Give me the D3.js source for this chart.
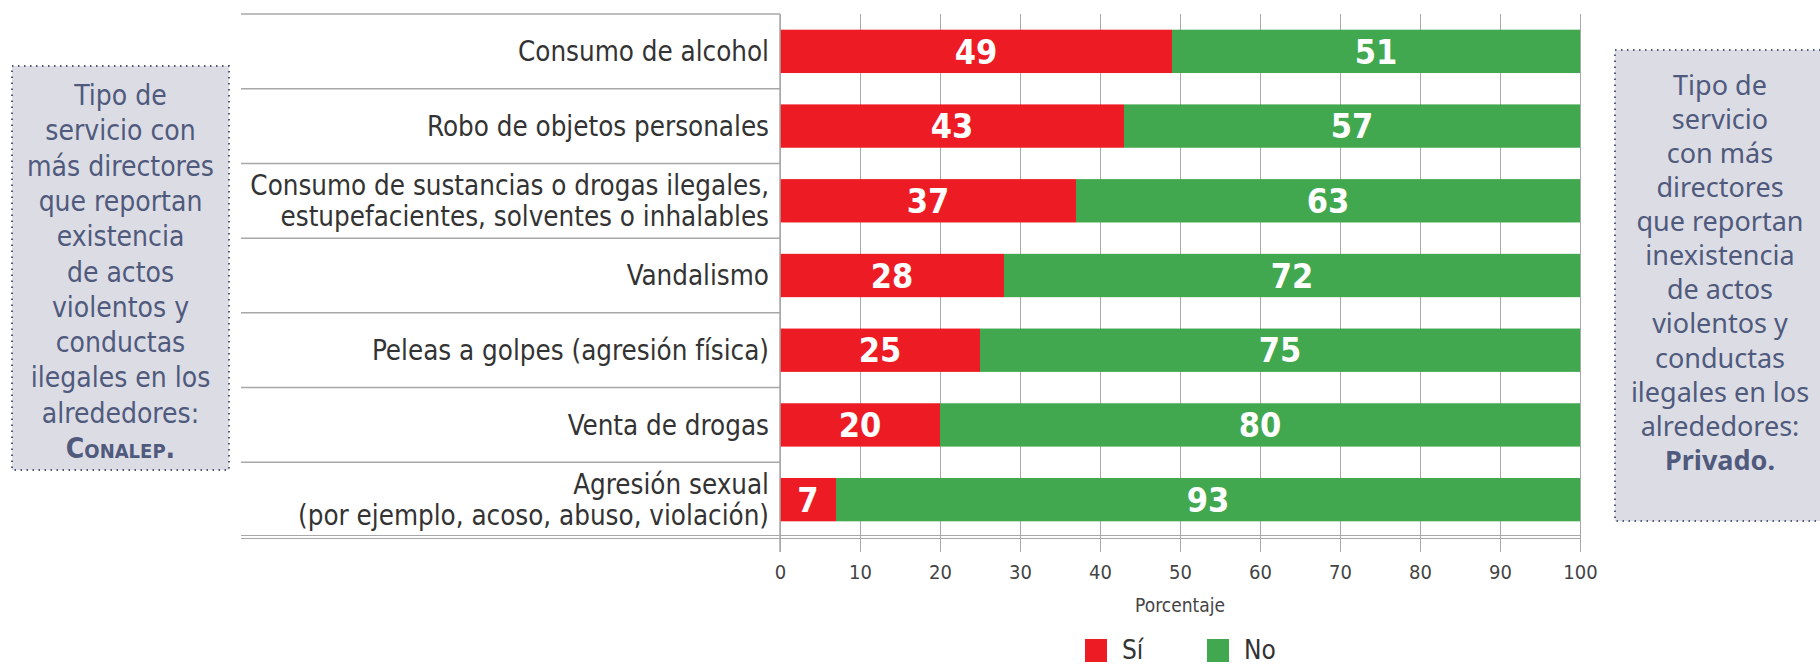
<!DOCTYPE html>
<html>
<head>
<meta charset="utf-8">
<script src="https://cdn.jsdelivr.net/npm/d3@7"></script>
<style>
  body { margin: 0; background: #fff; }
  svg { display: block; }
</style>
</head>
<body>
<div id="chart"></div>
<script>
// categories (line breaks marked with |)
const categories = [
  "Consumo de alcohol",
  "Robo de objetos personales",
  "Consumo de sustancias o drogas ilegales,|estupefacientes, solventes o inhalables",
  "Vandalismo",
  "Peleas a golpes (agresión física)",
  "Venta de drogas",
  "Agresión sexual|(por ejemplo, acoso, abuso, violación)"
];
const si = [49, 43, 37, 28, 25, 20, 7];
const no = [51, 57, 63, 72, 75, 80, 93];
const seriesNames = ["Sí", "No"];
const xTicks = [0, 10, 20, 30, 40, 50, 60, 70, 80, 90, 100];
const leftNote = ["Tipo de", "servicio con", "más directores", "que reportan", "existencia", "de actos", "violentos y", "conductas", "ilegales en los", "alrededores:"];
const leftBold = "Conalep.";
const rightNote = ["Tipo de", "servicio", "con más", "directores", "que reportan", "inexistencia", "de actos", "violentos y", "conductas", "ilegales en los", "alrededores:"];
const rightBold = "Privado.";

const w = 1820, h = 665;
const colors = {"Sí": "#ed1c24", "No": "#41a84f"};
const narrow = "'Liberation Sans Narrow', 'DejaVu Sans Condensed', 'Roboto', sans-serif";
const sans = "'Noto Sans', 'Open Sans', sans-serif";
const noteColor = "#4f5a7c";

const svg = d3.select("#chart").append("svg")
  .attr("width", w).attr("height", h);

const plotTop = 14, plotBottom = 537, plotL = 780, plotR = 1580, labelL = 241;

const x = d3.scaleLinear().domain([0, 100]).range([plotL, plotR]);
const y = d3.scaleBand().domain(categories).range([plotTop, plotBottom])
  .paddingInner(0.42).paddingOuter(0.21);

const rows = categories.map((c, i) => ({cat: c, si: si[i], no: no[i]}));

// gridlines
svg.append("g")
  .attr("transform", "translate(0," + (plotBottom + 15) + ")")
  .call(d3.axisBottom(x).tickValues(xTicks).tickSize(-(plotBottom + 15 - plotTop)).tickFormat(""))
  .call(g => g.select(".domain").remove())
  .call(g => g.selectAll(".tick line").attr("stroke", "#a8a8a8").attr("stroke-width", 1));

// row separators
const step = y.step();
d3.range(categories.length).forEach(i => {
  const yy = y(categories[i]) - step * y.paddingInner() / 2;
  svg.append("line")
    .attr("x1", labelL).attr("x2", plotL)
    .attr("y1", yy).attr("y2", yy)
    .attr("stroke", "#a8a8a8").attr("stroke-width", 1.5);
});
// bottom double line
[plotBottom - 1.5, plotBottom + 1.5].forEach(yy => {
  svg.append("line")
    .attr("x1", labelL).attr("x2", plotR)
    .attr("y1", yy).attr("y2", yy)
    .attr("stroke", "#a8a8a8").attr("stroke-width", 1.2);
});

// bars
const barG = svg.append("g");
barG.selectAll(".si").data(rows).enter().append("rect")
  .attr("x", x(0)).attr("y", d => y(d.cat))
  .attr("width", d => x(d.si) - x(0)).attr("height", y.bandwidth())
  .attr("fill", colors["Sí"]);
barG.selectAll(".no").data(rows).enter().append("rect")
  .attr("x", d => x(d.si)).attr("y", d => y(d.cat))
  .attr("width", d => x(d.si + d.no) - x(d.si)).attr("height", y.bandwidth())
  .attr("fill", colors["No"]);

// value labels
barG.selectAll(".vs").data(rows).enter().append("text")
  .attr("x", d => x(d.si / 2)).attr("y", d => y(d.cat) + y.bandwidth() / 2)
  .attr("dy", "0.36em").attr("text-anchor", "middle")
  .style("font-family", narrow).style("font-weight", "bold").style("font-size", "34px")
  .attr("fill", "#fff").text(d => d.si);
barG.selectAll(".vn").data(rows).enter().append("text")
  .attr("x", d => x(d.si + d.no / 2)).attr("y", d => y(d.cat) + y.bandwidth() / 2)
  .attr("dy", "0.36em").attr("text-anchor", "middle")
  .style("font-family", narrow).style("font-weight", "bold").style("font-size", "34px")
  .attr("fill", "#fff").text(d => d.no);

// vertical axis line
svg.append("line")
  .attr("x1", plotL).attr("x2", plotL).attr("y1", plotTop).attr("y2", plotBottom + 15)
  .attr("stroke", "#a8a8a8").attr("stroke-width", 1.5);

// category labels
categories.forEach(c => {
  const lines = c.split("|");
  const cy = y(c) + y.bandwidth() / 2;
  const lh = 31;
  lines.forEach((ln, j) => {
    svg.append("text")
      .attr("x", 769)
      .attr("y", cy + (j - (lines.length - 1) / 2) * lh)
      .attr("dy", "0.36em").attr("text-anchor", "end")
      .style("font-family", narrow).style("font-size", "27.5px")
      .attr("fill", "#333").text(ln);
  });
});

// x tick labels
svg.append("g")
  .attr("transform", "translate(0," + (plotBottom + 15) + ")")
  .call(d3.axisBottom(x).tickValues(xTicks).tickSize(0).tickPadding(13))
  .call(g => g.select(".domain").remove())
  .call(g => g.selectAll("text").style("font-family", narrow).style("font-size", "20px").attr("fill", "#444"));

svg.append("text")
  .attr("x", x(50)).attr("y", 605).attr("dy", "0.36em").attr("text-anchor", "middle")
  .style("font-family", narrow).style("font-size", "19px").attr("fill", "#444")
  .text("Porcentaje");

// legend
const legend = svg.append("g");
const legX = [1085, 1207];
seriesNames.forEach((s, i) => {
  legend.append("rect")
    .attr("x", legX[i]).attr("y", 639).attr("width", 22).attr("height", 23)
    .attr("fill", colors[s]);
  legend.append("text")
    .attr("x", legX[i] + 37).attr("y", 650).attr("dy", "0.36em")
    .style("font-family", narrow).style("font-size", "26px").attr("fill", "#333")
    .text(s);
});

// side notes
function note(x0, y0, bw, bh, lines, bold, font, size, lh, firstY, smallCaps) {
  const g = svg.append("g");
  g.append("rect")
    .attr("x", x0).attr("y", y0).attr("width", bw).attr("height", bh)
    .attr("fill", "#dcdce5")
    .attr("stroke", noteColor).attr("stroke-width", 2)
    .attr("stroke-dasharray", "1.5,4.5");
  const cx = x0 + bw / 2;
  lines.concat([bold]).forEach((ln, i) => {
    const t = g.append("text")
      .attr("x", cx).attr("y", firstY + i * lh).attr("dy", "0.36em")
      .attr("text-anchor", "middle")
      .style("font-family", font).style("font-size", size + "px")
      .attr("fill", noteColor).text(ln);
    if (i === lines.length) {
      t.style("font-weight", "bold");
      if (smallCaps) t.style("font-variant", "small-caps");
    }
  });
}
note(12, 66, 217, 404, leftNote, leftBold, narrow, 28, 35.3, 95, true);
note(1615, 50, 210, 471, rightNote, rightBold, sans, 27, 34.1, 85, false);
</script>
</body>
</html>
